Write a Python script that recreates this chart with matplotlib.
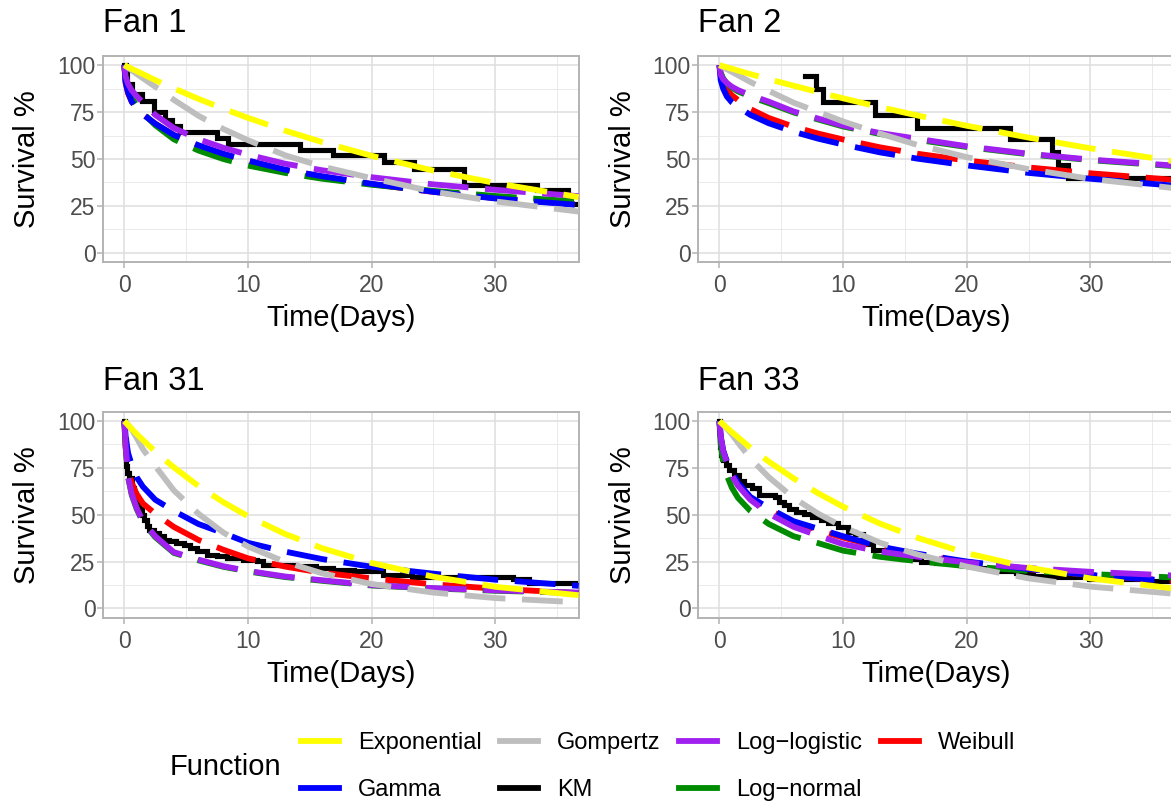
import matplotlib
matplotlib.use('Agg')
import matplotlib.pyplot as plt
from matplotlib.lines import Line2D

plt.rcParams['font.family'] = ['Liberation Sans', 'DejaVu Sans']

# ---------------- data ----------------
panel_titles = ['Fan 1', 'Fan 2', 'Fan 31', 'Fan 33']
functions = ['Exponential', 'Gamma', 'Gompertz', 'KM', 'Log\u2212logistic', 'Log\u2212normal', 'Weibull']

# common time grid for the fitted curves (days)
T = [0, 0.1, 0.3, 0.6, 1, 1.5, 2.5, 4, 6, 8, 10, 13, 16, 20, 25, 30, 36.75]

# Fan 1
f1_exp = [100, 99.7, 99, 98, 96.8, 95.2, 92, 87.6, 82, 76.8, 71.9, 65.1, 59, 51.7, 43.8, 37.2, 29.7]
f1_gam = [100, 91, 85.5, 80.5, 77, 73.8, 68.8, 62.8, 57.3, 52.8, 49.2, 44.3, 40.8, 36.8, 32.5, 29, 25.5]
f1_gom = [100, 99.5, 98.6, 97.2, 95.3, 93, 88.5, 81.5, 73, 66, 60, 52, 46, 39.8, 32.6, 27.4, 22]
f1_llog = [100, 94, 90, 86.5, 83.5, 80, 73.5, 66.5, 60.5, 56, 52.3, 47.5, 44, 40.3, 36.5, 33.6, 30.2]
f1_lnorm = [100, 92, 87, 82.5, 78.5, 74.5, 68, 60.5, 54.5, 50, 46.5, 42.6, 39.5, 36.3, 33, 30.3, 27.3]
f1_wei = [100, 90.5, 85, 80.5, 77, 73.8, 68.8, 62.7, 57, 52.6, 49, 44.2, 40.6, 36.6, 32.5, 29.2, 25.8]
km1_t = [0, 0.1, 0.25, 0.6, 1.4, 2.4, 3.3, 3.85, 4.5, 7.5, 8.4, 14.2, 16.9, 21.0, 23.4, 27.5, 33.4, 35.9, 36.75]
km1_s = [100, 95, 90, 84.6, 81, 75, 71, 67.8, 64.6, 61.2, 58, 54.9, 51.9, 48.3, 44.8, 35.9, 33.3, 25.8, 25.8]

# Fan 2
f2_exp = [100, 99.8, 99.4, 98.8, 98.1, 97.1, 95.2, 92.5, 89, 85.6, 82.3, 77.6, 73.2, 67.7, 61.4, 55.7, 48.8]
f2_gam = [100, 92, 87.5, 83.3, 80.2, 77.8, 73.5, 69, 64.5, 60.8, 57.7, 53.5, 50.2, 46.6, 42.6, 39.5, 35.8]
f2_gom = [100, 99.6, 98.9, 97.8, 96.4, 94.6, 91, 86.2, 80, 75, 70, 63.5, 57.5, 51, 44.6, 39.4, 34.5]
f2_llog = [100, 95, 92.5, 90.5, 88.5, 86.7, 84, 80.5, 75.3, 71.5, 67.8, 63.8, 60.8, 56.8, 52.8, 49.7, 46.5]
f2_lnorm = [100, 96, 93, 90.2, 88, 86, 83.2, 79.7, 74.8, 71, 67.3, 63.3, 60.2, 56.4, 52.5, 49.4, 46.2]
f2_wei = [100, 94.5, 91, 87, 84, 81.4, 76.6, 71.8, 67.2, 63.5, 60.4, 56.2, 52.8, 49.2, 45.5, 42.4, 38.9]
km2_t = [6.9, 7.8, 8.4, 12.6, 16.0, 23.5, 26.9, 27.35, 28.2, 36.75]
km2_s = [94.3, 87.3, 80.3, 73.3, 66.7, 60.6, 53.5, 46.8, 39.8, 39.8]

# Fan 31
f31_exp = [100, 99.3, 97.9, 95.8, 93.1, 89.9, 83.7, 75.3, 65.3, 56.7, 49.2, 39.7, 32.1, 24.2, 16.9, 11.5, 7.0]
f31_gam = [100, 92, 83, 76.5, 70, 65, 58, 52, 45, 40.2, 35, 30.3, 26.3, 22.2, 18.5, 15.3, 12]
f31_gom = [100, 99.5, 98, 95.5, 91, 85, 76, 63, 50.5, 40.5, 33, 24.8, 18.7, 13, 8.4, 5.5, 3.2]
f31_llog = [100, 88, 70.5, 61, 53.5, 46.5, 38.5, 30, 26, 22.5, 20, 17, 15, 12.4, 10.8, 9.6, 8.4]
f31_lnorm = [100, 87, 70, 60.5, 53, 46, 38, 29.6, 25.6, 22.2, 19.7, 16.7, 14.7, 12.2, 10.6, 9.4, 8.2]
f31_wei = [100, 86, 74, 67, 61, 56, 50.5, 43.5, 36.5, 31.3, 26.7, 22.3, 19, 16, 12.8, 10.5, 8.1]
km31_t = [0, 0.05, 0.1, 0.15, 0.25, 0.4, 0.6, 0.8, 1.0, 1.2, 1.4, 1.6, 1.8, 2.0, 2.4, 2.8, 3.2,
          3.6, 4.2, 4.8, 5.3, 5.9, 6.7, 7.5, 8.3, 9.6, 10.7, 11.2, 12.3, 13.9, 15.5, 16.9, 18.6,
          20.9, 23.3, 31.4, 32.7, 36.75]
km31_s = [100, 90, 81, 76, 72.5, 69.5, 64, 60, 56, 53, 50, 47, 44, 42, 40.2, 38.4, 36.6,
          35.8, 34.9, 34, 32.2, 30.4, 28.7, 27.8, 26.9, 26, 25.1, 23.4, 23, 22.5, 21.6, 20.7, 19.8,
          17.7, 16.6, 15.4, 13.6, 13.6]

# Fan 33
f33_exp = [100, 99.4, 98.2, 96.4, 94.1, 91.3, 85.8, 78.3, 69.4, 61.4, 54.3, 45.2, 37.7, 29.5, 21.8, 16, 10.6]
f33_gam = [100, 92, 84.5, 78.5, 73, 67, 59.5, 53.5, 46.5, 42.5, 38.5, 33, 29.2, 25, 21, 17.8, 14.5]
f33_gom = [100, 99.3, 98, 96, 93, 88.5, 80, 70, 59, 50.5, 43.5, 35, 28.8, 22.3, 16, 11.6, 7.8]
f33_llog = [100, 92, 84, 78, 71, 65.5, 58, 50.5, 43.5, 38.8, 34.3, 30.3, 27.6, 24.5, 21.5, 19.5, 17.5]
f33_lnorm = [100, 88, 78, 71, 64.5, 59, 52, 45, 38.5, 34.8, 30.8, 27.5, 25.2, 22.5, 20, 18.3, 16.5]
f33_wei = [100, 91, 83.5, 77.5, 72, 66, 58.5, 52.5, 46, 41.8, 37.8, 32.6, 28.7, 24.7, 20.9, 17.7, 14.6]
km33_t = [0, 0.03, 0.08, 0.15, 0.3, 0.5, 0.8, 1.2, 1.6, 2.0, 2.6, 3.2, 4.5, 4.8, 5.2, 5.6, 6.2,
          6.8, 7.5, 8.2, 8.8, 9.6, 10.4, 11.0, 11.6, 12.0, 12.4, 13.5, 14.8, 16.3, 17.5, 19.5,
          21.0, 22.4, 24.0, 25.4, 26.9, 29.9, 34.5, 36.75]
km33_s = [100, 92, 86, 82, 79, 76.5, 74, 71, 68, 66, 64, 60.5, 59.5, 57, 55, 53, 51.5,
          50.5, 49, 47, 45.5, 43.5, 41, 39.5, 37.5, 34.5, 31, 28.5, 26.5, 25, 24, 23,
          21.5, 20, 19, 17.5, 16.5, 15.8, 14.8, 14.8]

panel_curves = [
    {'Exponential': f1_exp, 'Gamma': f1_gam, 'Gompertz': f1_gom, 'Log\u2212logistic': f1_llog,
     'Log\u2212normal': f1_lnorm, 'Weibull': f1_wei},
    {'Exponential': f2_exp, 'Gamma': f2_gam, 'Gompertz': f2_gom, 'Log\u2212logistic': f2_llog,
     'Log\u2212normal': f2_lnorm, 'Weibull': f2_wei},
    {'Exponential': f31_exp, 'Gamma': f31_gam, 'Gompertz': f31_gom, 'Log\u2212logistic': f31_llog,
     'Log\u2212normal': f31_lnorm, 'Weibull': f31_wei},
    {'Exponential': f33_exp, 'Gamma': f33_gam, 'Gompertz': f33_gom, 'Log\u2212logistic': f33_llog,
     'Log\u2212normal': f33_lnorm, 'Weibull': f33_wei},
]
panel_km = [(km1_t, km1_s), (km2_t, km2_s), (km31_t, km31_s), (km33_t, km33_s)]

colors = {'Exponential': '#FFFF00', 'Gamma': '#0000FF', 'Gompertz': '#BEBEBE', 'KM': '#000000',
          'Log\u2212logistic': '#A020F0', 'Log\u2212normal': '#008B00', 'Weibull': '#FF0000'}
zorders = {'KM': 2, 'Weibull': 3, 'Log\u2212normal': 4, 'Gamma': 5, 'Log\u2212logistic': 6,
           'Gompertz': 7, 'Exponential': 8}

# ---------------- layout ----------------
W, H = 1171, 807
fig = plt.figure(figsize=(W / 100, H / 100), dpi=100)
fig.patch.set_facecolor('white')

boxes = [(102.7, 55.7, 578.7, 262.3), (697.8, 55.7, 1173.8, 262.3),
         (102.7, 411.7, 578.7, 617.7), (697.8, 411.7, 1173.8, 617.7)]

LW = 4.2
LW_KM = 3.7
DASH = (0, (7, 2.85))
border = '#B3B3B3'

for i, (l, t, r, b) in enumerate(boxes):
    ax = fig.add_axes([l / W, 1 - b / H, (r - l) / W, (b - t) / H])
    ax.set_xlim(-1.75, 36.75)
    ax.set_ylim(-5, 105)
    ax.set_xticks([0, 10, 20, 30])
    ax.set_xticks([5, 15, 25, 35], minor=True)
    ax.set_yticks([0, 25, 50, 75, 100])
    ax.set_yticks([12.5, 37.5, 62.5, 87.5], minor=True)
    ax.grid(which='major', color='#DEDEDE', lw=1.1)
    ax.grid(which='minor', color='#E6E6E6', lw=0.6)
    ax.set_axisbelow(True)
    ax.tick_params(which='minor', length=0)
    ax.tick_params(which='major', length=4, width=1.1, color=border,
                   labelcolor='#4D4D4D', labelsize=16.5)
    ax.tick_params(axis='x', which='major', pad=4.5)
    ax.tick_params(axis='y', which='major', pad=1.2)
    for sp in ax.spines.values():
        sp.set_color(border)
        sp.set_linewidth(1.4)

    kt, ks = panel_km[i]
    ax.step(kt, ks, where='post', color=colors['KM'], lw=LW_KM, zorder=zorders['KM'],
            solid_joinstyle='miter')
    for name, vals in panel_curves[i].items():
        ax.plot(T, vals, color=colors[name], lw=LW, linestyle=DASH,
                zorder=zorders[name], dash_capstyle='butt')

    base = 1.113 if i < 2 else 1.105
    ax.text(0.0, base, panel_titles[i], transform=ax.transAxes, ha='left',
            va='baseline', fontsize=23.5, color='black')
    ax.set_xlabel('Time(Days)', fontsize=21, color='black')
    ax.xaxis.label.set_va('baseline')
    ax.xaxis.set_label_coords(0.5, -0.31 if i < 2 else -0.312)
    ax.set_ylabel('Survival %', fontsize=21, color='black')
    ax.yaxis.label.set_va('center')
    ax.yaxis.set_label_coords(-0.158, 0.5)

# ---------------- legend ----------------
handles = [Line2D([0], [0], color=colors[f], lw=LW) for f in functions]
fig.text(170 / W, 1 - 767 / H, 'Function', fontsize=21, va='center', ha='left')
fig.legend(handles, functions, loc='upper left', bbox_to_anchor=(301 / W, 1 - 732 / H),
           ncol=4, frameon=False, fontsize=17, handlelength=1.6, handletextpad=0.8,
           columnspacing=0.8, labelspacing=1.07, borderpad=0, borderaxespad=0)

fig.savefig('out.png', dpi=100, facecolor='white')
